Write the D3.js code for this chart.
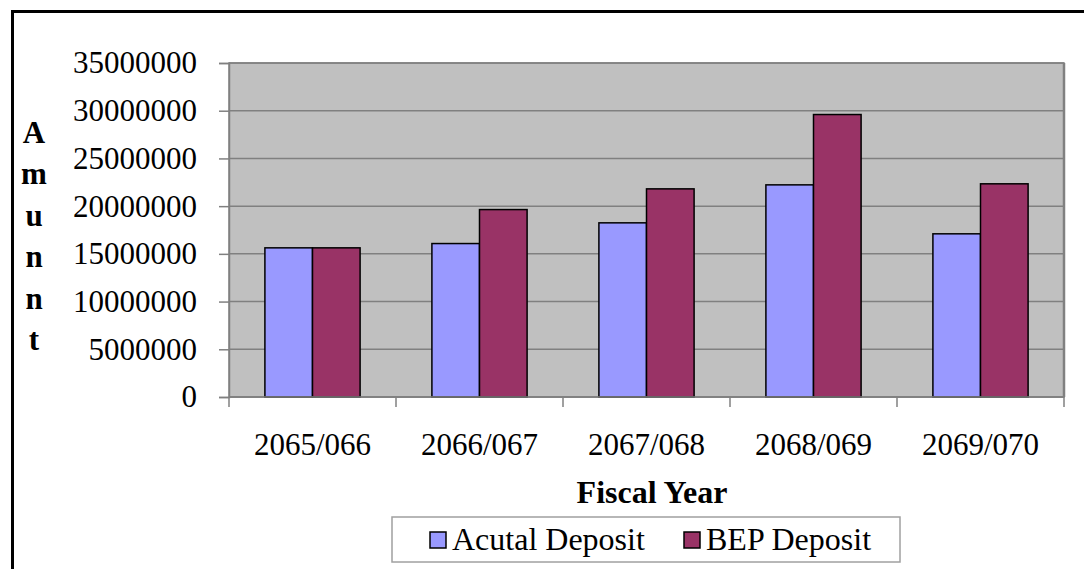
<!DOCTYPE html>
<html>
<head>
<meta charset="utf-8">
<script src="https://cdn.jsdelivr.net/npm/d3@7"></script>
<style>
  body { margin: 0; background: #fff; }
  svg text { font-family: "Liberation Serif", "Times New Roman", serif; fill: #000; }
</style>
</head>
<body>
<div id="chart"></div>
<script>
// chart data
const categories = ["2065/066", "2066/067", "2067/068", "2068/069", "2069/070"];
const seriesNames = ["Acutal Deposit", "BEP Deposit"];
const actualDeposit = [15630000, 16080000, 18250000, 22230000, 17100000];
const bepDeposit = [15630000, 19640000, 21810000, 29600000, 22340000];
const yTicks = [0, 5000000, 10000000, 15000000, 20000000, 25000000, 30000000, 35000000];
const yTitle = "Amunnt";
const xTitle = "Fiscal Year";
const colors = ["#9999ff", "#993366"];

const width = 1084;
const height = 569;
const plot = { left: 229, right: 1064, top: 63, bottom: 397 };
const fontSize = 31;

const svg = d3.select("#chart")
  .append("svg")
  .attr("width", width)
  .attr("height", height);

// outer frame
svg.append("rect")
  .attr("x", 12.5).attr("y", 11.5)
  .attr("width", width + 20).attr("height", height + 20)
  .attr("fill", "none")
  .attr("stroke", "#000")
  .attr("stroke-width", 3);

// plot background
svg.append("rect")
  .attr("x", plot.left).attr("y", plot.top)
  .attr("width", plot.right - plot.left)
  .attr("height", plot.bottom - plot.top)
  .attr("fill", "#c0c0c0");

// scales
const x0 = d3.scaleBand()
  .domain(categories)
  .range([plot.left, plot.right])
  .paddingInner(0.43)
  .paddingOuter(0.215);

const x1 = d3.scaleBand()
  .domain(seriesNames)
  .range([0, x0.bandwidth()]);

const y = d3.scaleLinear()
  .domain([0, 35000000])
  .range([plot.bottom, plot.top]);

// gridlines
svg.append("g")
  .selectAll("line")
  .data(yTicks)
  .enter()
  .append("line")
  .attr("x1", plot.left).attr("x2", plot.right)
  .attr("y1", d => y(d)).attr("y2", d => y(d))
  .attr("stroke", "#808080")
  .attr("stroke-width", 1.5);

// plot border (right side a bit heavier)
svg.append("rect")
  .attr("x", plot.left).attr("y", plot.top)
  .attr("width", plot.right - plot.left)
  .attr("height", plot.bottom - plot.top)
  .attr("fill", "none")
  .attr("stroke", "#808080")
  .attr("stroke-width", 1.5);
svg.append("line")
  .attr("x1", plot.right).attr("x2", plot.right)
  .attr("y1", plot.top).attr("y2", plot.bottom)
  .attr("stroke", "#808080")
  .attr("stroke-width", 2.5);

// y axis
const yAxis = d3.axisLeft(y)
  .tickValues(yTicks)
  .tickFormat(d3.format("d"))
  .tickSize(10)
  .tickPadding(22);

const yG = svg.append("g")
  .attr("transform", `translate(${plot.left}, 0)`)
  .call(yAxis);
yG.select(".domain").attr("stroke", "#808080").attr("stroke-width", 1.5);
yG.selectAll(".tick line").attr("stroke", "#808080").attr("stroke-width", 1.5);
yG.selectAll(".tick text")
  .attr("font-size", fontSize)
  .attr("fill", "#000");

// bars
const rows = categories.map((c, i) => ({ cat: c, values: [actualDeposit[i], bepDeposit[i]] }));

svg.append("g")
  .selectAll("g")
  .data(rows)
  .enter()
  .append("g")
  .attr("transform", d => `translate(${x0(d.cat)}, 0)`)
  .selectAll("rect")
  .data(d => d.values.map((v, j) => ({ name: seriesNames[j], value: v, color: colors[j] })))
  .enter()
  .append("rect")
  .attr("x", d => x1(d.name))
  .attr("y", d => y(d.value))
  .attr("width", x1.bandwidth())
  .attr("height", d => y(0) - y(d.value))
  .attr("fill", d => d.color)
  .attr("stroke", "#000")
  .attr("stroke-width", 1.5);

// x axis line and tick marks at category boundaries
svg.append("line")
  .attr("x1", plot.left).attr("x2", plot.right)
  .attr("y1", plot.bottom).attr("y2", plot.bottom)
  .attr("stroke", "#808080")
  .attr("stroke-width", 1.5);

const gap = (x0.step() - x0.bandwidth()) / 2;
const bounds = categories.map(c => x0(c) - gap).concat([x0(categories[categories.length - 1]) + x0.bandwidth() + gap]);
svg.append("g")
  .selectAll("line")
  .data(bounds)
  .enter()
  .append("line")
  .attr("x1", d => d).attr("x2", d => d)
  .attr("y1", plot.bottom).attr("y2", plot.bottom + 10)
  .attr("stroke", "#808080")
  .attr("stroke-width", 1.5);

svg.append("g")
  .selectAll("text")
  .data(categories)
  .enter()
  .append("text")
  .attr("x", d => x0(d) + x0.bandwidth() / 2)
  .attr("y", 455)
  .attr("text-anchor", "middle")
  .attr("font-size", fontSize)
  .text(d => d);

// axis titles
svg.append("text")
  .attr("x", 652)
  .attr("y", 503)
  .attr("text-anchor", "middle")
  .attr("font-size", 32)
  .attr("font-weight", "bold")
  .text(xTitle);

svg.append("g")
  .selectAll("text")
  .data(yTitle.split(""))
  .enter()
  .append("text")
  .attr("x", 34)
  .attr("y", (d, i) => 143 + i * 41.4)
  .attr("text-anchor", "middle")
  .attr("font-size", fontSize)
  .attr("font-weight", "bold")
  .text(d => d);

// legend
const legend = svg.append("g");
legend.append("rect")
  .attr("x", 392).attr("y", 517)
  .attr("width", 508).attr("height", 45)
  .attr("fill", "#fff")
  .attr("stroke", "#a0a0a0")
  .attr("stroke-width", 1.5);

const legendX = [430, 684];
const items = legend.selectAll("g.item")
  .data(seriesNames)
  .enter()
  .append("g")
  .attr("class", "item")
  .attr("transform", (d, i) => `translate(${legendX[i]}, 532)`);

items.append("rect")
  .attr("width", 16).attr("height", 16)
  .attr("fill", (d, i) => colors[i])
  .attr("stroke", "#000")
  .attr("stroke-width", 1.5);

items.append("text")
  .attr("x", 22)
  .attr("y", 18)
  .attr("font-size", 32)
  .text(d => d);
</script>
</body>
</html>
